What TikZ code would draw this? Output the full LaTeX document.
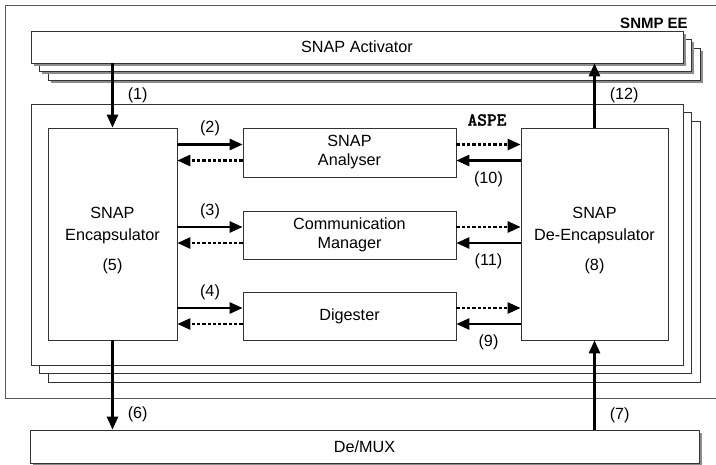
\documentclass[tikz,border=0pt]{standalone}
\usepackage{fontspec}
\setmainfont{Liberation Sans}
\newfontfamily\aspefont{lmmonolt10-bold.otf}[FakeBold=1.2]
\usetikzlibrary{positioning}
\usetikzlibrary{arrows.meta,shadows}
\tikzset{
  blk/.style={draw=black!80,fill=white,line width=0.7pt,inner sep=0,align=center},
  sblk/.style={blk,drop shadow={shadow xshift=2.5pt,shadow yshift=-2.5pt,fill=black!45,opacity=1}},
  fwd/.style={line width=2.6pt,-{Triangle[length=13pt,width=11pt]}},
  bwd/.style={fwd,dash pattern=on 3.3pt off 2pt},
  num/.style={inner sep=2pt}
}

\begin{document}
\begin{tikzpicture}[x=1pt,y=-1pt,font=\fontsize{16.2}{22}\selectfont]
  \useasboundingbox (0,0) rectangle (716,464);
  \draw[black!65,line width=0.8pt] (716,5) -- (5,5) -- (5,398) -- (716,398);
  \node[font=\fontsize{15}{16}\selectfont\bfseries] (ee) at (654,23) {SNMP EE};
  % activator and its copies
  \foreach \d in {17,8.5}
    \node[sblk,minimum width=652pt,minimum height=32pt] at (357+\d,47+\d) {};
  \node[sblk,minimum width=652pt,minimum height=32pt] (act) at (357,47) {SNAP Activator};
  % aspe and its copies
  \foreach \d in {17,8.5}
    \node[blk,minimum width=652pt,minimum height=261pt] at (357+\d,234.5+\d) {};
  \node[blk,minimum width=652pt,minimum height=261pt] (aspe) at (357,234.5) {};
  \node[font=\fontsize{18.5}{18}\aspefont\selectfont] (aspelbl) at (487,120) {ASPE};
  \node[blk,minimum width=129pt,minimum height=212pt,
    label={[name=enctxt,align=center,yshift=-7pt]center:SNAP\\Encapsulator\\[8pt](5)}] (enc) at (112.5,234) {};
  \node[blk,minimum width=147pt,minimum height=212pt,
    label={[name=denctxt,align=center,yshift=-7pt]center:SNAP\\De-Encapsulator\\[8pt](8)}] (denc) at (594.5,234) {};
  \node[blk,minimum width=213pt,minimum height=49pt] (ana) at (349.5,152.5) {SNAP\\[-3pt]Analyser};
  \node[blk,minimum width=213pt,minimum height=48pt] (com) at (349.5,235) {Communication\\[-3pt]Manager};
  \node[blk,minimum width=213pt,minimum height=48pt] (dig) at (349.5,316) {Digester};
  \node[sblk,minimum width=669pt,minimum height=33pt] (mux) at (364.5,446.5) {De/MUX};
  % vertical flows
  \draw[fwd] (act.south -| enc.north) -- node[num,right=12pt]{(1)} (enc.north);
  \draw[fwd] (denc.north) -- node[num,right=12pt]{(12)} (act.south -| denc.north);
  \draw[fwd] (enc.south) -- node[num,pos=0.83,right=12pt]{(6)} (mux.north -| enc.south);
  \draw[fwd] (mux.north -| denc.south) -- node[num,pos=0.16,right=12pt]{(7)} (denc.south);
  % encapsulator side
  \draw[fwd] ([yshift=8pt]ana.west -| enc.east) -- node[num,above=5pt]{(2)} ([yshift=8pt]ana.west);
  \draw[bwd] ([yshift=-8pt]ana.west) -- ([yshift=-8pt]ana.west -| enc.east);
  \draw[fwd] ([yshift=8pt]com.west -| enc.east) -- node[num,above=5pt]{(3)} ([yshift=8pt]com.west);
  \draw[bwd] ([yshift=-8pt]com.west) -- ([yshift=-8pt]com.west -| enc.east);
  \draw[fwd] ([yshift=8pt]dig.west -| enc.east) -- node[num,above=5pt]{(4)} ([yshift=8pt]dig.west);
  \draw[bwd] ([yshift=-8pt]dig.west) -- ([yshift=-8pt]dig.west -| enc.east);
  % de-encapsulator side
  \draw[bwd] ([yshift=8pt]ana.east) -- ([yshift=8pt]ana.east -| denc.west);
  \draw[fwd] ([yshift=-8pt]ana.east -| denc.west) -- node[num,below=8pt]{(10)} ([yshift=-8pt]ana.east);
  \draw[bwd] ([yshift=8pt]com.east) -- ([yshift=8pt]com.east -| denc.west);
  \draw[fwd] ([yshift=-8pt]com.east -| denc.west) -- node[num,below=7pt]{(11)} ([yshift=-8pt]com.east);
  \draw[bwd] ([yshift=8pt]dig.east) -- ([yshift=8pt]dig.east -| denc.west);
  \draw[fwd] ([yshift=-8pt]dig.east -| denc.west) -- node[num,below=7pt]{(9)} ([yshift=-8pt]dig.east);
\end{tikzpicture}
\end{document}
